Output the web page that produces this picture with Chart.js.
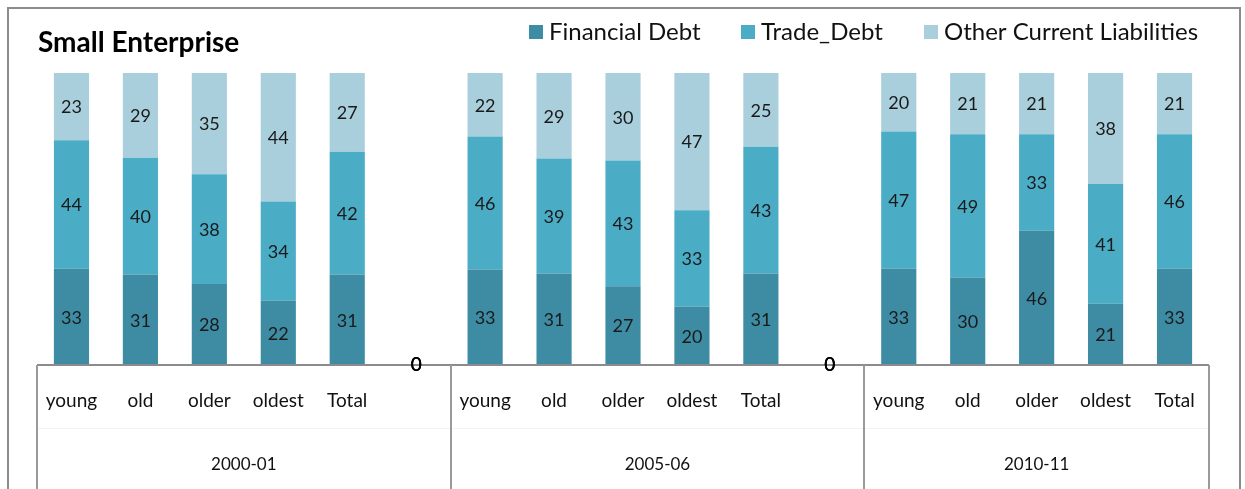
<!DOCTYPE html>
<html>
<head>
<meta charset="utf-8">
<script src="https://cdn.jsdelivr.net/npm/chart.js@4/dist/chart.umd.min.js"></script>
<style>
  html, body { margin: 0; padding: 0; background: #ffffff; }
  #wrap { width: 1245px; height: 489px; }
</style>
</head>
<body>
<div id="wrap"><canvas id="c" width="1245" height="489"></canvas></div>
<script>
// Age classes within each period, and the periods themselves
const ageClasses = ['young', 'old', 'older', 'oldest', 'Total'];
const periods = ['2000-01', '2005-06', '2010-11'];

// Shares of current liabilities (%) by period, one row per period
const financialDebt = [
  [33, 31, 28, 22, 31],
  [33, 31, 27, 20, 31],
  [33, 30, 46, 21, 33]
];
const tradeDebt = [
  [44, 40, 38, 34, 42],
  [46, 39, 43, 33, 43],
  [47, 49, 33, 41, 46]
];
const otherLiabilities = [
  [23, 29, 35, 44, 27],
  [22, 29, 30, 47, 25],
  [20, 21, 21, 38, 21]
];

const seriesNames = ['Financial Debt', 'Trade_Debt', 'Other Current Liabilities'];
const seriesColors = ['#3d8ca3', '#4bacc6', '#a9cfdd'];
const seriesValues = [financialDebt, tradeDebt, otherLiabilities];

// Flatten periods into one category axis; a zero-valued spacer slot separates periods
const labels = [];
const groupOf = [];
const isSpacer = [];
periods.forEach((p, g) => {
  ageClasses.forEach(a => { labels.push(a); groupOf.push(g); isSpacer.push(false); });
  if (g < periods.length - 1) { labels.push(''); groupOf.push(g); isSpacer.push(true); }
});

function flatRaw(rows) {
  const out = [];
  rows.forEach((row, g) => {
    row.forEach(v => out.push(v));
    if (g < rows.length - 1) out.push(0);
  });
  return out;
}
const rawFlat = seriesValues.map(flatRaw);

// 100% stacking: each bar is scaled so its three parts fill the column
const totals = labels.map((_, i) => rawFlat.reduce((s, arr) => s + arr[i], 0));
const datasets = seriesNames.map((name, k) => ({
  label: name,
  data: rawFlat[k].map((v, i) => totals[i] ? v / totals[i] * 100 : 0),
  rawValues: rawFlat[k],
  backgroundColor: seriesColors[k],
  borderWidth: 0,
  barPercentage: 0.51,
  categoryPercentage: 1.0
}));

const FONT = 'Lato, "Noto Sans", sans-serif';

const decorations = {
  id: 'decorations',
  afterDraw(chart) {
    const ctx = chart.ctx;
    const area = chart.chartArea;
    const xs = chart.scales.x;
    const H = chart.height;
    const step = xs.getPixelForValue(1) - xs.getPixelForValue(0);
    ctx.save();

    // outer frame
    ctx.strokeStyle = '#8c8c8c';
    ctx.lineWidth = 2;
    ctx.beginPath();
    ctx.moveTo(8, H + 2);
    ctx.lineTo(8, 8);
    ctx.lineTo(1240, 8);
    ctx.lineTo(1240, H + 2);
    ctx.stroke();

    // chart title
    ctx.fillStyle = '#000';
    ctx.font = 'bold 28px ' + FONT;
    ctx.textAlign = 'left';
    ctx.textBaseline = 'middle';
    ctx.fillText('Small Enterprise', 38, 43);

    // legend
    const legendX = [529, 741, 924];
    ctx.font = '24px ' + FONT;
    seriesNames.forEach((n, k) => {
      ctx.fillStyle = seriesColors[k];
      ctx.fillRect(legendX[k], 25, 14, 14);
      ctx.fillStyle = '#111';
      ctx.fillText(n, legendX[k] + 20, 32);
    });

    // category axis line
    const left = area.left, right = area.right, base = area.bottom;
    ctx.strokeStyle = '#8c8c8c';
    ctx.lineWidth = 2;
    ctx.beginPath();
    ctx.moveTo(left, base);
    ctx.lineTo(right, base);
    ctx.stroke();

    // faint separator between the two label rows
    ctx.strokeStyle = '#f3f3f3';
    ctx.lineWidth = 1;
    ctx.beginPath();
    ctx.moveTo(left, 428.5);
    ctx.lineTo(right, 428.5);
    ctx.stroke();

    // period boxes: vertical dividers at the period boundaries
    const bounds = [left];
    periods.forEach((p, g) => {
      const idx = groupOf.map((v, i) => v === g ? i : -1).filter(i => i >= 0);
      bounds.push(xs.getPixelForValue(idx[idx.length - 1]) + step / 2);
    });
    ctx.strokeStyle = '#9a9a9a';
    ctx.lineWidth = 2;
    bounds.forEach(b => {
      ctx.beginPath();
      ctx.moveTo(Math.round(b), base);
      ctx.lineTo(Math.round(b), H);
      ctx.stroke();
    });

    // age class labels and period labels
    ctx.fillStyle = '#111';
    ctx.textAlign = 'center';
    ctx.font = '19px ' + FONT;
    labels.forEach((l, i) => {
      if (!isSpacer[i]) ctx.fillText(l, xs.getPixelForValue(i), 401);
    });
    ctx.font = '17px ' + FONT;
    periods.forEach((p, g) => {
      ctx.fillText(p, (bounds[g] + bounds[g + 1]) / 2, 465);
    });

    // value labels in the middle of each segment, "0" for the spacer slots
    chart.data.datasets.forEach((ds, k) => {
      const meta = chart.getDatasetMeta(k);
      meta.data.forEach((el, i) => {
        const v = ds.rawValues[i];
        if (isSpacer[i]) {
          ctx.fillStyle = '#000';
          ctx.font = '19px ' + FONT;
          ctx.fillText(String(v), el.x, base);
        } else {
          ctx.fillStyle = '#1a1a1a';
          ctx.font = '18px ' + FONT;
          ctx.fillText(String(v), el.x, (el.y + el.base) / 2 + 1);
        }
      });
    });
    ctx.restore();
  }
};

new Chart(document.getElementById('c'), {
  type: 'bar',
  data: { labels: labels, datasets: datasets },
  options: {
    responsive: false,
    animation: false,
    devicePixelRatio: 1,
    layout: { padding: { left: 37, right: 36, top: 73, bottom: 124 } },
    plugins: { legend: { display: false }, title: { display: false }, tooltip: { enabled: false } },
    scales: {
      x: { stacked: true, display: false },
      y: { stacked: true, display: false, min: 0, max: 100 }
    }
  },
  plugins: [decorations]
});
</script>
</body>
</html>
